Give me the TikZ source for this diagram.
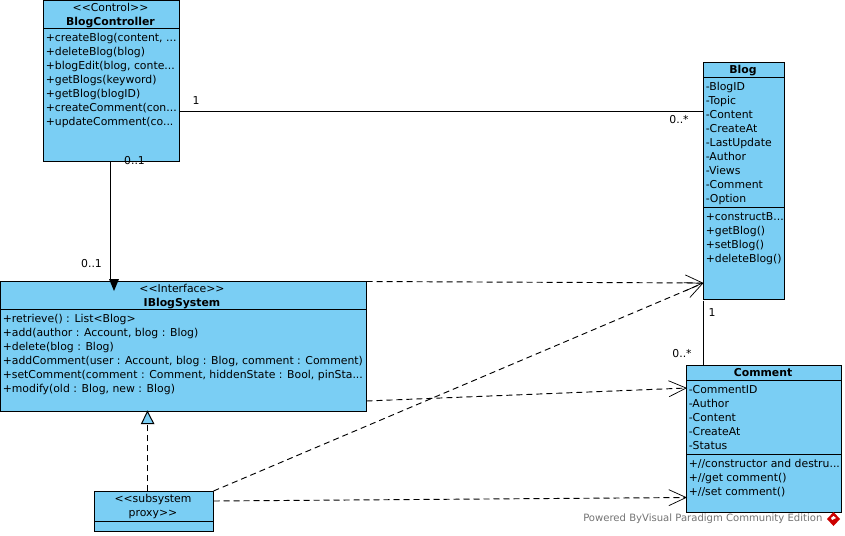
\documentclass[tikz,border=0pt]{standalone}
\usepackage{fontspec}
\setmainfont{DejaVu Sans}
\usetikzlibrary{arrows.meta,positioning,shapes.geometric}
\definecolor{classblue}{RGB}{122,206,244}
\tikzset{
  umlfont/.style={font=\fontsize{8.15}{10.5}\selectfont},
  classbox/.style={draw,fill=classblue,line width=0.75pt,anchor=north west,inner sep=0pt,outer sep=0pt},
  classhead/.style={umlfont,align=center,anchor=north,inner sep=0pt},
  members/.style={umlfont,align=left,anchor=north west,inner sep=0pt},
  mult/.style={umlfont,inner sep=0pt},
  assoc/.style={line width=0.75pt},
  dashline/.style={line width=0.7pt,dash pattern=on 4.5pt off 3pt},
  depend/.style={dashline,-{Straight Barb[length=13pt,width=12pt,line width=0.55pt]}},
}
\begin{document}
\begin{tikzpicture}[x=0.75pt,y=-0.75pt]
  \useasboundingbox (0,0) rectangle (845,535);
  \node[classbox,minimum width=102pt,minimum height=120.75pt] (ctrl) at (43.5,0.5) {};
  \node[classbox,minimum width=274.5pt,minimum height=97.5pt] (iblog) at (0.5,281.5) {};
  \node[classbox,minimum width=89.25pt,minimum height=30pt] (proxy) at (94.5,491.5) {};
  \node[classbox,minimum width=60.75pt,minimum height=177.75pt] (blog) at (703.5,62.5) {};
  \node[classbox,minimum width=116.25pt,minimum height=110.25pt] (comment) at (686.5,365.5) {};

  \draw[assoc] (ctrl.north west |- 0,28.5) -- (ctrl.north east |- 0,28.5);
  \draw[assoc] (iblog.north west |- 0,309.5) -- (iblog.north east |- 0,309.5);
  \draw[assoc] (proxy.north west |- 0,521.5) -- (proxy.north east |- 0,521.5);
  \draw[assoc] (blog.north west |- 0,77.5) -- (blog.north east |- 0,77.5);
  \draw[assoc] (blog.north west |- 0,207.5) -- (blog.north east |- 0,207.5);
  \draw[assoc] (comment.north west |- 0,380.5) -- (comment.north east |- 0,380.5);
  \draw[assoc] (comment.north west |- 0,454.5) -- (comment.north east |- 0,454.5);

  \node[classhead] (ctrlhead) at (110.5,2.5) {<{}<Control>{}>\\\textbf{BlogController}};
  \node[classhead] (ibloghead) at (182,284) {<{}<Interface>{}>\\\textbf{IBlogSystem}};
  \node[classhead] (proxyhead) at (153,494) {<{}<subsystem\\proxy>{}>};
  \node[classhead] (bloghead) at (743,65) {\textbf{Blog}};
  \node[classhead] (commenthead) at (763,368) {\textbf{Comment}};

  \node[members] (ctrlops) at (45.5,33) {+createBlog(content, ...\\+deleteBlog(blog)\\+blogEdit(blog, conte...\\+getBlogs(keyword)\\+getBlog(blogID)\\+createComment(con...\\+updateComment(co...};
  \node[members] (iblogops) at (2.5,314) {+retrieve() : List<Blog>\\+add(author : Account, blog : Blog)\\+delete(blog : Blog)\\+addComment(user : Account, blog : Blog, comment : Comment)\\+setComment(comment : Comment, hiddenState : Bool, pinSta...\\+modify(old : Blog, new : Blog)};
  \node[members] (blogattrs) at (705.5,82) {-BlogID\\-Topic\\-Content\\-CreateAt\\-LastUpdate\\-Author\\-Views\\-Comment\\-Option};
  \node[members] (blogops) at (705.5,212) {+constructB...\\+getBlog()\\+setBlog()\\+deleteBlog()};
  \node[members] (commentattrs) at (688.5,385) {-CommentID\\-Author\\-Content\\-CreateAt\\-Status};
  \node[members] (commentops) at (688.5,459) {+//constructor and destru...\\+//get comment()\\+//set comment()};

  \coordinate (ctrlblogend) at (703.5,111.5);
  \coordinate (ctrldown) at (110.5,161.5);
  \coordinate (iblogtop) at (110.5,281.5);
  \coordinate (blogbottom) at (703.5,300.5);
  \coordinate (commenttop) at (703.5,365);
  \coordinate (blogtip) at (703.5,283);
  \coordinate (commenttipa) at (687,388);
  \coordinate (commenttipb) at (687,497.5);

  \draw[assoc] (ctrl.east |- ctrlblogend) -- (ctrlblogend);
  \draw[assoc] (ctrldown) -- (iblogtop);
  \fill (109,279) -- (119,279) -- (114,291) -- cycle;
  \draw[assoc] (blogbottom) -- (commenttop);

  \draw[depend] (366.5,281.5) -- (blogtip);
  \draw[depend] (366.5,401) -- (commenttipa);
  \draw[depend] (213.5,491) -- (blogtip);
  \draw[depend] (213.5,501) -- (commenttipb);

  \draw[dashline] (147.5,491) -- (147.5,423.5);
  \draw[fill=classblue,line width=0.75pt] (147.5,411.5) -- (153.7,423.7) -- (141.5,423.7) -- cycle;

  \node[mult] (ctrlone) at (196,101) {1};
  \node[mult] (blogmany) at (679,120) {0..*};
  \node[mult] (ctrlzero) at (134.5,161) {0..1};
  \node[mult] (iblogzero) at (91.5,264) {0..1};
  \node[mult] (blogone) at (712,313) {1};
  \node[mult] (commentmany) at (682,354) {0..*};

  \node[inner sep=0pt,font=\fontsize{7.55}{9}\selectfont,text=black!55,anchor=west] (powered) at (583,519) {Powered ByVisual Paradigm Community Edition};
  \fill[red!80!black] (833.5,512) -- (840,519) -- (833.5,526) -- (827,519) -- cycle;
  \fill[white] (833.5,516) -- (836,518) -- (832,520) -- (831,518) -- cycle;
\end{tikzpicture}
\end{document}
